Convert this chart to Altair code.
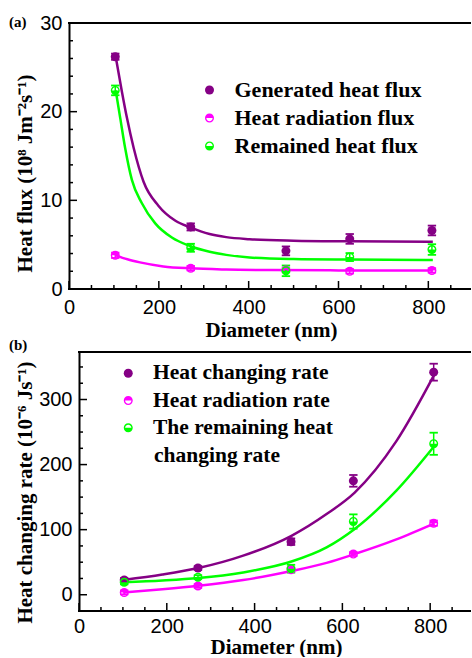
import altair as alt
import pandas as pd

# ---------------- data ----------------
diameter = [103, 271, 483, 625, 808]

# panel (a): heat flux (10^8 J m^-2 s^-1)
a_names = ["Generated heat flux", "Heat radiation flux", "Remained heat flux"]
a_gen = [26.2, 7.0, 4.3, 5.65, 6.6]
a_gen_err = [0.35, 0.4, 0.5, 0.55, 0.55]
a_rad = [3.8, 2.35, 2.15, 2.0, 2.1]
a_rad_err = [0.3, 0.25, 0.25, 0.25, 0.25]
a_rem = [22.4, 4.65, 2.05, 3.6, 4.45]
a_rem_err = [0.55, 0.45, 0.6, 0.45, 0.6]

# fitted curves of panel (a)
a_gen_cx = [104, 118, 129, 144, 166, 199, 237, 270, 313, 350, 402, 500, 624, 810]
a_gen_cy = [26.2, 22.2, 19.3, 15.9, 12.1, 9.4, 7.7, 6.95, 6.2, 5.85, 5.62, 5.45, 5.38, 5.33]
a_rem_cx = [104, 114, 125, 140, 162, 192, 229, 269, 313, 350, 402, 500, 624, 810]
a_rem_cy = [22.4, 19.3, 15.9, 12.3, 9.7, 7.4, 5.8, 4.85, 4.2, 3.85, 3.55, 3.38, 3.32, 3.28]
a_rad_cx = [104, 130, 158, 210, 270, 350, 450, 600, 810]
a_rad_cy = [3.8, 3.35, 3.0, 2.55, 2.33, 2.2, 2.14, 2.1, 2.08]

# panel (b): heat changing rate (10^-6 J s^-1)
b_names = ["Heat changing rate", "Heat radiation rate", "The remaining heat changing rate"]
b_gen = [22.6, 41.0, 81.5, 175.0, 342.0]
b_gen_err = [3, 3, 5, 9, 13]
b_rad = [3.6, 13.5, 38.5, 62.5, 110.0]
b_rad_err = [3, 3, 3, 3, 4]
b_rem = [19.0, 27.0, 40.0, 112.5, 232.0]
b_rem_err = [3, 3, 6, 11, 17]

b_cx = [101, 190, 272, 374, 484, 564, 628, 723, 810]
b_gen_cy = [22.6, 31.0, 41.0, 60.0, 90.6, 124.0, 157.0, 236.0, 339.0]
b_rem_cy = [19.0, 21.8, 25.6, 34.3, 51.0, 72.7, 101.0, 160.0, 229.0]
b_rad_cy = [3.6, 8.5, 13.8, 22.5, 36.5, 49.0, 62.5, 85.0, 109.6]

# tick positions
x_major = [0, 200, 400, 600, 800]
x_minor = [50, 100, 150, 250, 300, 350, 450, 500, 550, 650, 700, 750, 850]
a_y_major = [0, 10, 20, 30]
a_y_minor = [2, 4, 6, 8, 12, 14, 16, 18, 22, 24, 26, 28]
b_y_major = [0, 100, 200, 300]
b_y_minor = [25, 50, 75, 125, 150, 175, 225, 250, 275, 325, 350]

# ---------------- styling ----------------
COLORS = ["#850085", "#ff00ff", "#00ff00"]
TOP_HALF = "M-1,0 A1,1 0 0,1 1,0 A1,1 0 0,1 -1,0 Z M-0.7,0 A0.7,0.7 0 0,0 0.7,0 Z"
BOTTOM_HALF = "M-1,0 A1,1 0 0,1 1,0 A1,1 0 0,1 -1,0 Z M0.7,0 A0.7,0.7 0 0,0 -0.7,0 Z"
SHAPES = ["circle", TOP_HALF, BOTTOM_HALF]
SERIF = "Liberation Serif"
SANS = "Liberation Sans"


def make_panel(names, point_series, curve_series, x_dom, y_dom, W, H, x0,
               y_major, y_minor, y_title, title_x, title_y, x_label_pad, x_title_pad,
               tag, tag_x, tag_y, leg_x, leg_y, leg_fs, leg_rowpad,
               label_expr=None, extra=None):
    """x0 = pixel offset of the frame's left edge inside the view."""
    rows = []
    for name, ys, es in zip(names, point_series[0], point_series[1]):
        for x, y, e in zip(diameter, ys, es):
            rows.append({"series": name, "d": x, "v": y, "lo": y - e, "hi": y + e})
    pts = pd.DataFrame(rows)

    xscale = alt.Scale(domain=x_dom, nice=False, zero=False)
    yscale = alt.Scale(domain=y_dom, nice=False, zero=False)
    xaxis = alt.Axis(values=x_major, ticks=False, grid=False, domain=False,
                     labelFont=SANS, labelFontSize=20, labelColor="black",
                     labelPadding=x_label_pad, labelFlush=False, format="d",
                     title="Diameter (nm)", titleFont=SERIF, titleFontWeight="bold",
                     titleFontSize=21, titleColor="black", titlePadding=x_title_pad,
                     titleX=x0 + (W - x0) / 2 + 1)
    yaxis = alt.Axis(values=y_major, ticks=False, grid=False, domain=True,
                     domainColor="black", domainWidth=2, labelFont=SANS,
                     labelFontSize=20, labelColor="black", labelPadding=7,
                     format="d", title=y_title, titleFont=SERIF,
                     titleFontWeight="bold", titleFontSize=21, titleColor="black",
                     titleX=title_x, titleY=title_y, offset=-x0)

    def X(f):
        return alt.X(f + ":Q", scale=xscale, axis=xaxis)

    def Y(f):
        return alt.Y(f + ":Q", scale=yscale, axis=yaxis)

    layers = []
    for name, (cx, cy), col in zip(names, curve_series, COLORS):
        df = pd.DataFrame({"d": cx, "v": cy})
        layers.append(alt.Chart(df).mark_line(interpolate="monotone", strokeWidth=2.5,
                                              color=col).encode(x=X("d"), y=Y("v")))
    for name, col in zip(names, COLORS):
        sub = pts[pts["series"] == name]
        layers.append(alt.Chart(sub).mark_rule(strokeWidth=1.5, color=col).encode(
            x=X("d"), y=Y("lo"), y2=alt.Y2("hi")))
        for f in ("lo", "hi"):
            layers.append(alt.Chart(sub).mark_point(shape="stroke", size=70, strokeWidth=1.8,
                                                    filled=False, opacity=1, color=col).encode(
                x=X("d"), y=Y(f)))

    leg_kw = dict(title=None, orient="none", legendX=leg_x, legendY=leg_y, padding=0,
                  labelFont=SERIF, labelFontWeight="bold", labelFontSize=leg_fs,
                  labelColor="black", labelLimit=600, labelOffset=14,
                  rowPadding=leg_rowpad, symbolSize=81, symbolStrokeWidth=0,
                  symbolOpacity=1)
    if label_expr:
        leg_kw["labelExpr"] = label_expr
    leg = alt.Legend(**leg_kw)
    layers.append(alt.Chart(pts).mark_point(filled=True, size=81, opacity=1, strokeWidth=0).encode(
        x=X("d"), y=Y("v"),
        color=alt.Color("series:N", scale=alt.Scale(domain=names, range=COLORS), legend=leg),
        shape=alt.Shape("series:N", scale=alt.Scale(domain=names, range=SHAPES), legend=leg)))

    one = pd.DataFrame({"k": [0]})
    # inward major / minor ticks
    layers.append(alt.Chart(pd.DataFrame({"t": x_major})).mark_rule(color="black", strokeWidth=1.5).encode(
        x=X("t"), y=alt.value(H), y2=alt.value(H - 8)))
    layers.append(alt.Chart(pd.DataFrame({"t": x_minor})).mark_rule(color="black", strokeWidth=1.5).encode(
        x=X("t"), y=alt.value(H), y2=alt.value(H - 4)))
    layers.append(alt.Chart(pd.DataFrame({"t": y_major})).mark_rule(color="black", strokeWidth=1.5).encode(
        y=Y("t"), x=alt.value(x0), x2=alt.value(x0 + 8)))
    layers.append(alt.Chart(pd.DataFrame({"t": y_minor})).mark_rule(color="black", strokeWidth=1.5).encode(
        y=Y("t"), x=alt.value(x0), x2=alt.value(x0 + 4)))
    # top and bottom frame lines
    for yy in (0, H):
        layers.append(alt.Chart(one).mark_rule(color="black", strokeWidth=2).encode(
            x=alt.value(x0 - 1), x2=alt.value(W), y=alt.value(yy)))
    layers.append(alt.Chart(one).mark_text(text=tag, align="left", baseline="middle", font=SERIF,
                                           fontWeight="bold", fontSize=15, color="black").encode(
        x=alt.value(tag_x), y=alt.value(tag_y)))
    if extra:
        txt, ex, ey = extra
        layers.append(alt.Chart(one).mark_text(text=txt, align="left", baseline="middle",
                                               font=SERIF, fontWeight="bold", fontSize=leg_fs,
                                               color="black").encode(
            x=alt.value(ex), y=alt.value(ey)))
    return alt.layer(*layers).properties(width=W, height=H)


panel_a = make_panel(
    a_names,
    ([a_gen, a_rad, a_rem], [a_gen_err, a_rad_err, a_rem_err]),
    [(a_gen_cx, a_gen_cy), (a_rad_cx, a_rad_cy), (a_rem_cx, a_rem_cy)],
    [0, 895], [0, 30], 402, 266, 0, a_y_major, a_y_minor,
    "Heat flux (10⁸ Jm⁻²s⁻¹)", -34, 150, 8, 2, "(a)", -60, -1,
    129.5, 56, 22, 6)

# panel (b): its frame starts 10 px further right than panel (a)'s
panel_b = make_panel(
    b_names,
    ([b_gen, b_rad, b_rem], [b_gen_err, b_rad_err, b_rem_err]),
    [(b_cx, b_gen_cy), (b_cx, b_rad_cy), (b_cx, b_rem_cy)],
    [-22.8, 893], [-25, 373], 402, 259, 10, b_y_major, b_y_minor,
    "Heat changing rate (10⁻⁶ Js⁻¹)", -44, 140, 5, 0, "(b)", -60, -7.4,
    48.5, 10.5, 21.5, 4.3,
    label_expr="datum.label == 'The remaining heat changing rate' ? 'The remaining heat' : datum.label",
    extra=("changing rate", 85, 104))

chart = alt.vconcat(panel_a, panel_b, spacing=-3,
                    padding={"left": 9, "top": 13, "right": 0, "bottom": 0}
                    ).configure_view(stroke=None).resolve_scale(
    color="independent", shape="independent", x="independent", y="independent")

chart.save("out.html", embed_options={"renderer": "svg", "actions": False})
